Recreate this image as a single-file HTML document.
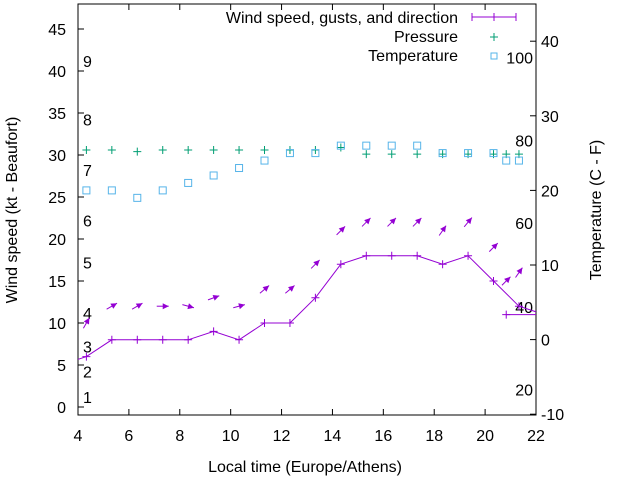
<!DOCTYPE html>
<html><head><meta charset="utf-8"><style>
html,body{margin:0;padding:0;background:#fff}
svg{display:block;font-family:"Liberation Sans",sans-serif;font-size:16px}
</style></head><body>
<svg width="640" height="480" viewBox="0 0 640 480">
<rect x="78" y="4" width="458" height="411" fill="none" stroke="#000" stroke-width="1"/>
<g id="axes"></g>
<g id="series"></g>
<text x="17" y="210" transform="rotate(-90 17 210)" text-anchor="middle">Wind speed (kt - Beaufort)</text>
<text x="601" y="210" transform="rotate(-90 601 210)" text-anchor="middle">Temperature (C - F)</text>
<text x="305" y="472" text-anchor="middle">Local time (Europe/Athens)</text>
<g>
<text x="458" y="23" text-anchor="end">Wind speed, gusts, and direction</text>
<line x1="472" y1="17" x2="516" y2="17" stroke="#9400d3"/>
<line x1="472" y1="13" x2="472" y2="21" stroke="#9400d3"/><line x1="516" y1="13" x2="516" y2="21" stroke="#9400d3"/>
<line x1="494" y1="13" x2="494" y2="21" stroke="#9400d3"/>
<text x="458" y="42" text-anchor="end">Pressure</text>
<path d="M490 37h8M494 33v8" stroke="#009e73"/>
<text x="458" y="61" text-anchor="end">Temperature</text>
<rect x="491" y="53" width="6" height="6" fill="none" stroke="#56b4e9"/>
</g>
</svg>
<script>
const hours=[4.33,5.33,6.33,7.33,8.33,9.33,10.33,11.33,12.33,13.33,14.33,15.33,16.33,17.33,18.33,19.33,20.33,21.33];
const windHours=[3.33,4.33,5.33,6.33,7.33,8.33,9.33,10.33,11.33,12.33,13.33,14.33,15.33,16.33,17.33,18.33,19.33,20.33,21.33,22.33];
const windSpeed=[5,6,8,8,8,8,9,8,10,10,13,17,18,18,18,17,18,15,12,11];
const wind2Hours=[20.83,23];
const wind2Speed=[11,11];
const gustHours=[4.33,5.33,6.33,7.33,8.33,9.33,10.33,11.33,12.33,13.33,14.33,15.33,16.33,17.33,18.33,19.33,20.33,20.83,21.33];
const gustSpeed=[10,12,12,12,12,13,12,14,14,17,21,22,22,22,21,22,19,15,16];
const gustAngle=[60,30,30,0,-15,20,15,40,40,45,45,45,45,45,55,50,45,45,55];
const presHours=[4.33,5.33,6.33,7.33,8.33,9.33,10.33,11.33,12.33,13.33,14.33,15.33,16.33,17.33,18.33,19.33,20.33,20.83,21.33];
const pressure=[30.6,30.6,30.4,30.6,30.6,30.6,30.6,30.6,30.6,30.6,30.9,30.1,30.1,30.1,30.1,30.1,30.1,30.1,30.1];
const tempHours=[4.33,5.33,6.33,7.33,8.33,9.33,10.33,11.33,12.33,13.33,14.33,15.33,16.33,17.33,18.33,19.33,20.33,20.83,21.33];
const temperature=[20,20,19,20,21,22,23,24,25,25,26,26,26,26,25,25,25,24,24];
const xTicks=[4,6,8,10,12,14,16,18,20,22];
const yTicks=[0,5,10,15,20,25,30,35,40,45];
const y2Ticks=[-10,0,10,20,30,40];
const beaufortLabels=["1","2","3","4","5","6","7","8","9"];
const beaufortY=[1.2,4.2,7.2,11.2,17.2,22.2,28.2,34.2,41.2];
const fahrLabels=["20","40","60","80","100"];
const fahrC=[-6.7,4.4,15.6,26.7,37.8];

const X=h=>78+(h-4)*(458/18);
const Y=v=>407-v*8.4;
const Y2=t=>339.6-t*7.46;
const NS="http://www.w3.org/2000/svg";
function mk(tag,attrs,parent){const e=document.createElementNS(NS,tag);for(const k in attrs)e.setAttribute(k,attrs[k]);parent.appendChild(e);return e;}
const axes=document.getElementById('axes'),ser=document.getElementById('series');
xTicks.forEach(t=>{
 mk('line',{x1:X(t),y1:415,x2:X(t),y2:409,stroke:'#000'},axes);
 mk('line',{x1:X(t),y1:4,x2:X(t),y2:10,stroke:'#000'},axes);
 const tx=mk('text',{x:X(t),y:441,'text-anchor':'middle'},axes);
 
 
 tx.textContent=t;
});
yTicks.forEach(t=>{
 mk('line',{x1:78,y1:Y(t),x2:84,y2:Y(t),stroke:'#000'},axes);
 const tx=mk('text',{x:66,y:Y(t)+6,'text-anchor':'end'},axes);
 
 
 tx.textContent=t;
});
y2Ticks.forEach(t=>{
 mk('line',{x1:536,y1:Y2(t),x2:530,y2:Y2(t),stroke:'#000'},axes);
 const tx=mk('text',{x:541,y:Y2(t)+6,'text-anchor':'start'},axes);
 
 
 tx.textContent=t;
});
beaufortLabels.forEach((l,i)=>{
 const tx=mk('text',{x:83,y:Y(beaufortY[i])+6},axes);
 
 
 tx.textContent=l;
});
fahrLabels.forEach((l,i)=>{
 const tx=mk('text',{x:533,y:Y2(fahrC[i])+6,'text-anchor':'end'},axes);
 
 
 tx.textContent=l;
});
const cp=mk('clipPath',{id:'clip'},ser);
mk('rect',{x:78,y:4,width:458,height:411},cp);
const g=mk('g',{'clip-path':'url(#clip)'},ser);
const wl=mk('polyline',{points:windHours.map((h,i)=>X(h)+','+Y(windSpeed[i])).join(' '),fill:'none',stroke:'#9400d3'},g);


const wl2=mk('polyline',{points:wind2Hours.map((h,i)=>X(h)+','+Y(wind2Speed[i])).join(' '),fill:'none',stroke:'#9400d3'},g);


windHours.concat(wind2Hours).forEach((h,i)=>{
 const v=i<windHours.length?windSpeed[i]:wind2Speed[i-windHours.length];
 const p=mk('path',{d:`M${X(h)-4} ${Y(v)}h8M${X(h)} ${Y(v)-4}v8`,stroke:'#9400d3'},g);
 
 
});
gustHours.forEach((h,i)=>{
 const cx=X(h),cy=Y(gustSpeed[i]),a=gustAngle[i]*Math.PI/180,L=6;
 const dx=Math.cos(a)*L,dy=-Math.sin(a)*L;
 const tx=cx+dx,ty=cy+dy;
 const ux=dx/L,uy=dy/L,px=-uy,py=ux;
 const ar=mk('g',{},g);
 
 
 mk('line',{x1:cx-dx,y1:cy-dy,x2:tx,y2:ty,stroke:'#9400d3'},ar);
 mk('polygon',{points:`${tx},${ty} ${tx-ux*6+px*3},${ty-uy*6+py*3} ${tx-ux*6-px*3},${ty-uy*6-py*3}`,fill:'#9400d3'},ar);
});
presHours.forEach((h,i)=>{
 const p=mk('path',{d:`M${X(h)-4} ${Y(pressure[i])}h8M${X(h)} ${Y(pressure[i])-4}v8`,stroke:'#009e73'},g);
 
 
});
tempHours.forEach((h,i)=>{
 const r=mk('rect',{x:X(h)-3.5,y:Y2(temperature[i])-3.5,width:7,height:7,fill:'none',stroke:'#56b4e9'},g);
 
 
});
</script>
</body></html>
